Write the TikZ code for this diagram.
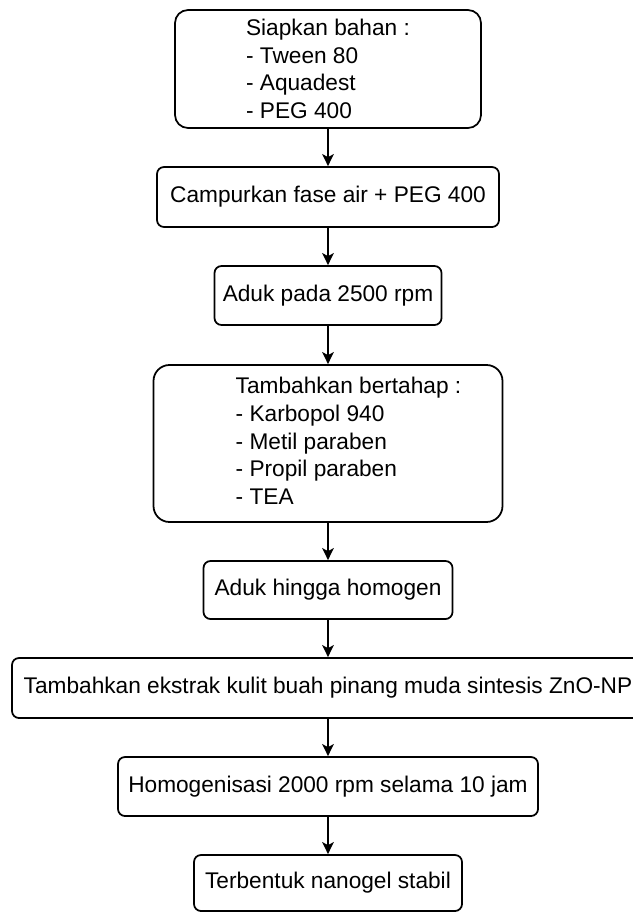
\documentclass[tikz,border=0pt]{standalone}
\usepackage{fontspec}
\setmainfont{Liberation Sans}
\usepackage{tikz}
\usetikzlibrary{positioning, arrows.meta}

\begin{document}
\begin{tikzpicture}[
    stepbox/.style={draw, line width=1pt, rounded corners=0.14cm, inner sep=0pt,
        align=center, font=\fontsize{12.9}{15.8}\selectfont},
    arrow/.style={-{Stealth[length=2.4mm, width=2.3mm, inset=0.6mm]}, line width=1pt}
]
    \useasboundingbox (0, 0) rectangle (12.64, -18.24);

    % Steps
    \node[stepbox, rounded corners=0.26cm, align=left, minimum width=6.12cm, minimum height=2.36cm]
        (siapkan) at (6.56, -1.38) {Siapkan bahan :\\- Tween 80\\- Aquadest\\- PEG 400};
    \node[stepbox, minimum width=6.84cm, minimum height=1.2cm]
        (campur) at (6.56, -3.94) {Campurkan fase air + PEG 400};
    \node[stepbox, minimum width=4.54cm, minimum height=1.18cm]
        (aduk) at (6.56, -5.91) {Aduk pada 2500 rpm};
    \node[stepbox, rounded corners=0.32cm, minimum width=6.98cm, minimum height=3.14cm]
        (tambah) at (6.56, -8.87) {\begin{tabular}{@{\hspace{0.82cm}}l@{}}
            Tambahkan bertahap :\\- Karbopol 940\\- Metil paraben\\- Propil paraben\\- TEA
        \end{tabular}};
    \node[stepbox, minimum width=4.98cm, minimum height=1.16cm]
        (homogen) at (6.56, -11.80) {Aduk hingga homogen};
    \node[stepbox, minimum width=12.64cm, minimum height=1.2cm]
        (ekstrak) at (6.56, -13.76) {Tambahkan ekstrak kulit buah pinang muda sintesis ZnO-NP};
    \node[stepbox, minimum width=8.4cm, minimum height=1.18cm]
        (homogenisasi) at (6.56, -15.73) {Homogenisasi 2000 rpm selama 10 jam};
    \node[stepbox, minimum width=5.36cm, minimum height=1.12cm]
        (nanogel) at (6.56, -17.66) {Terbentuk nanogel stabil};

    % Arrows
    \draw[arrow] (siapkan) -- (campur);
    \draw[arrow] (campur) -- (aduk);
    \draw[arrow] (aduk) -- (tambah);
    \draw[arrow] (tambah) -- (homogen);
    \draw[arrow] (homogen) -- (ekstrak);
    \draw[arrow] (ekstrak) -- (homogenisasi);
    \draw[arrow] (homogenisasi) -- (nanogel);

\end{tikzpicture}
\end{document}
